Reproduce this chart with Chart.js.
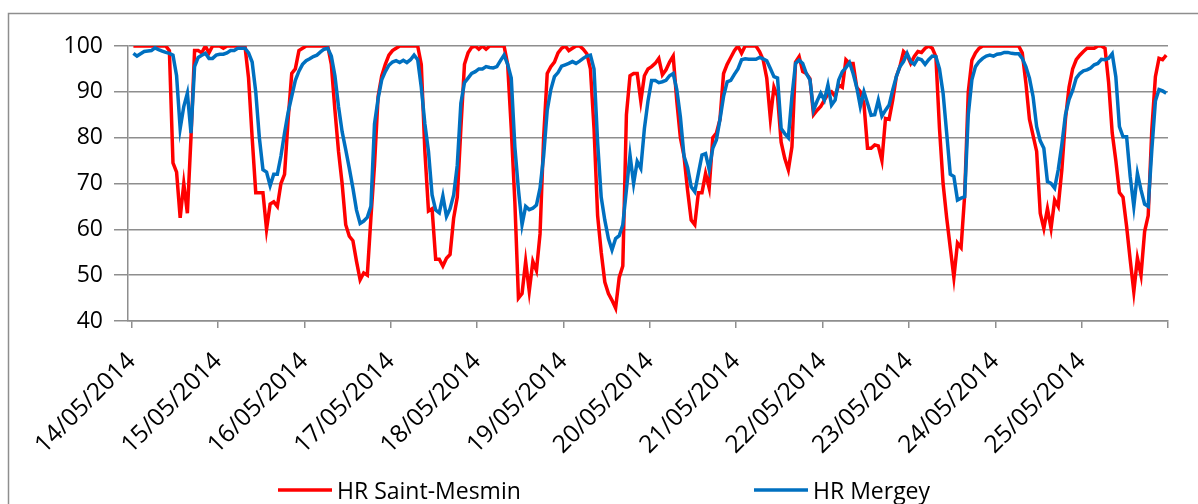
<!DOCTYPE html>
<html>
<head>
<meta charset="utf-8">
<script src="https://cdn.jsdelivr.net/npm/chart.js@4/dist/chart.umd.min.js"></script>
<style>
    html, body { margin: 0; padding: 0; background: #fff; overflow: hidden; }
</style>
</head>
<body>
<canvas id="hrChart" width="1198" height="504"></canvas>
<script>
// one tick per day, hourly readings in between
var dates = ['14/05/2014', '15/05/2014', '16/05/2014', '17/05/2014', '18/05/2014', '19/05/2014',
    '20/05/2014', '21/05/2014', '22/05/2014', '23/05/2014', '24/05/2014', '25/05/2014'];
var hoursPerDay = 24;

// relative humidity (%), hourly
var saintMesmin = [
    100, 100, 100, 100, 100, 100, 100, 100, 100, 100, 99, 74.5, 72.5, 62.5, 70, 63.5, 80, 99, 99, 98.5, 100, 98.5, 100, 100,
    100, 99.5, 100, 100, 100, 100, 100, 100, 93, 80, 68, 68, 68, 60, 65.5, 66, 65, 70, 72, 84, 94, 95, 99, 99.5,
    100, 100, 100, 100, 100, 100, 100, 96, 86, 77, 70, 61, 58.5, 57.5, 53, 49, 50.5, 50, 62.5, 74, 89, 93.5, 96, 98,
    99, 99.5, 100, 100, 100, 100, 100, 100, 96, 77, 64, 64.5, 53.5, 53.5, 52, 53.7, 54.5, 62.5, 67, 82, 96, 98.5, 99.7, 100,
    99.3, 100, 99.3, 100, 100, 100, 100, 100, 96, 82, 66, 45, 46, 53, 46.5, 53, 51, 59, 80, 94, 95.5, 96.5, 98.5, 99.5,
    100, 99, 99.5, 100, 100, 99.3, 98.3, 95, 82, 63, 55, 48.5, 46, 44.5, 42.8, 49.5, 52, 85, 93.5, 94, 94, 88, 93.5, 95,
    95.5, 96.2, 97.3, 93.7, 94.8, 96.5, 97.8, 88, 80, 76, 68.5, 62, 61, 68, 68, 72.2, 69, 80, 81, 84, 94, 96, 97.5, 99,
    100, 98.4, 100, 100, 100, 100, 98.8, 97, 93, 84.2, 91, 89, 79, 75.5, 73, 78, 96.5, 97.7, 94.4, 94, 92.9, 85, 86, 86.8,
    88.2, 89.5, 90, 89, 91.5, 91, 97, 96.2, 96.2, 91, 90, 87.5, 77.7, 77.7, 78.4, 78.2, 75, 84.2, 84, 88.2, 93.3, 95.5, 98.8, 98,
    96.2, 97.7, 98.8, 98.6, 99.5, 100, 99.5, 97.7, 82, 70, 62.5, 56, 49.5, 57, 56, 67.5, 90, 96.9, 98.5, 99.5, 100, 100, 100, 100,
    100, 100, 100, 100, 100, 100, 100, 98.5, 92, 84, 80.5, 77, 63.5, 60.2, 64.5, 60.2, 66.4, 65, 73, 84, 91, 95, 97, 98,
    98.8, 99.5, 99.5, 99.5, 100, 100, 99.5, 92, 81, 75, 68, 67, 60.6, 53.3, 46.4, 53.7, 50, 59.5, 63, 81.7, 93.3, 97.3, 97, 98
];

var mergey = [
    98.4, 97.8, 98.3, 98.8, 98.9, 99, 99.6, 99.2, 98.9, 98.6, 98.4, 98, 93.5, 82, 86.8, 89.7, 81, 95.5, 97.5, 98, 98.4, 97.3, 97.3, 98,
    98.2, 98.2, 98.5, 99, 99, 99.5, 99.5, 99.5, 98.5, 96.5, 90, 80, 73, 72.5, 69.5, 72, 72, 76, 81, 85.5, 89, 92.5, 94.5, 96,
    96.8, 97.2, 97.7, 98, 98.7, 99.3, 99.5, 97.8, 93.5, 86.8, 81.3, 77.4, 73.3, 69, 64.2, 61.3, 61.8, 62.6, 65, 83, 88.5, 92.6, 94.4, 95.8,
    96.5, 96.8, 96.4, 96.9, 96.4, 97, 98, 97, 91, 83, 77, 67.5, 64.2, 63.6, 67.3, 62.8, 64.5, 67.5, 74, 87.5, 92, 93, 94, 94.4,
    95, 95, 95.5, 95.3, 95.2, 95.5, 96.8, 98, 96, 93, 78, 68.6, 61, 65, 64.3, 64.6, 65.3, 69, 76, 86, 90.5, 93.3, 94.2, 95.6,
    95.9, 96.2, 96.6, 96.2, 96.7, 97.3, 97.8, 98, 95, 79, 67, 62, 58, 55.5, 58, 58.6, 61, 68.6, 76.2, 70, 74.8, 73.3, 82, 88,
    92.5, 92.5, 92, 92.2, 92.5, 93.5, 94, 90.5, 84.5, 76, 73.5, 69.3, 68.2, 72.2, 76.2, 76.5, 73, 77.7, 79.5, 84, 89, 92.2, 92.5, 93.8,
    95, 97, 97.2, 97.1, 97.1, 97.1, 97.5, 97.2, 96.8, 95.1, 93.3, 93, 82, 80.9, 80, 89, 96.2, 96.9, 96.2, 94, 92.6, 86, 88, 89.7,
    88.2, 91.5, 87.1, 88.2, 92.6, 94.4, 95.3, 96.4, 94, 91, 86.8, 90, 87.5, 84.9, 85, 88.2, 84.7, 86, 87.1, 90.4, 93.3, 95.5, 96.6, 98.4,
    96.6, 96, 97.3, 97, 96, 97, 97.8, 97.7, 95, 89.7, 81, 72, 71.5, 66.4, 66.8, 67.1, 85, 92.6, 95.5, 96.6, 97.3, 97.8, 98, 97.8,
    98.2, 98.3, 98.6, 98.6, 98.4, 98.3, 98.3, 97.3, 95.5, 93, 89, 82.4, 79.3, 77.7, 70.4, 70, 69, 73, 78.5, 85, 88.3, 90.3, 93, 94,
    94.6, 94.8, 95.2, 95.9, 96.2, 97.1, 97, 97.3, 98.3, 93.3, 82.4, 80.2, 80.2, 71.5, 65, 72.2, 68.6, 65.5, 65, 77.3, 88, 90.5, 90.2, 89.7
];

var gridColor = '#8e8e8e';
var fontFamily = "'Open Sans', 'DejaVu Sans', sans-serif";

Chart.defaults.font.family = fontFamily;
Chart.defaults.font.size = 23;
Chart.defaults.color = '#000';

function toPoints(values) {
    return values.map(function (v, i) {
        return { x: i, y: v };
    });
}

// outer frame of the chart object (only left and top edges are in view)
var framePlugin = {
    id: 'frame',
    beforeDraw: function (chart) {
        var ctx = chart.ctx;
        ctx.save();
        ctx.strokeStyle = '#8e8e8e';
        ctx.lineWidth = 1.5;
        ctx.beginPath();
        ctx.moveTo(8.5, chart.height + 10);
        ctx.lineTo(8.5, 13.5);
        ctx.lineTo(chart.width + 10, 13.5);
        ctx.stroke();
        ctx.restore();
    }
};

// legend row under the axis, items spread like the original
var legendPlugin = {
    id: 'legendRow',
    afterDraw: function (chart, args, opts) {
        var ctx = chart.ctx;
        chart.data.datasets.forEach(function (ds, k) {
            var x = opts.starts[k];
            ctx.save();
            ctx.strokeStyle = ds.borderColor;
            ctx.lineWidth = ds.borderWidth;
            ctx.beginPath();
            ctx.moveTo(x, opts.y);
            ctx.lineTo(x + opts.lineLength, opts.y);
            ctx.stroke();
            ctx.fillStyle = '#000';
            ctx.font = opts.fontSize + 'px ' + fontFamily;
            ctx.textBaseline = 'alphabetic';
            ctx.fillText(ds.label, x + opts.lineLength + opts.gap, opts.y + 9);
            ctx.restore();
        });
    }
};

var ctx = document.getElementById('hrChart').getContext('2d');
var hrChart = new Chart(ctx, {
    type: 'line',
    data: {
        datasets: [{
            label: 'HR Saint-Mesmin',
            data: toPoints(saintMesmin),
            borderColor: '#ff0000',
            borderWidth: 3.5,
            pointRadius: 0,
            tension: 0,
            order: 1
        }, {
            label: 'HR Mergey',
            data: toPoints(mergey),
            borderColor: '#0070c0',
            borderWidth: 3.5,
            pointRadius: 0,
            tension: 0,
            order: 0
        }]
    },
    options: {
        responsive: false,
        animation: false,
        devicePixelRatio: 1,
        layout: {
            padding: { left: 0, right: 30, top: 46, bottom: 0 }
        },
        plugins: {
            legend: { display: false },
            tooltip: { enabled: false },
            legendRow: {
                starts: [278, 754],
                y: 490,
                lineLength: 54,
                gap: 5,
                fontSize: 23
            }
        },
        scales: {
            x: {
                type: 'linear',
                min: -1.5,
                max: saintMesmin.length - 0.5,
                afterBuildTicks: function (scale) {
                    var ticks = [];
                    for (var k = 0; k <= dates.length; k++) {
                        ticks.push({ value: k * hoursPerDay - 0.5 });
                    }
                    scale.ticks = ticks;
                },
                afterFit: function (scale) {
                    scale.height = 183;
                    // keep the plot edges fixed, the rotated labels fit anyway
                    scale.paddingLeft = 0;
                    scale.paddingRight = 0;
                },
                ticks: {
                    autoSkip: false,
                    minRotation: 45,
                    maxRotation: 45,
                    padding: 19,
                    font: { size: 24.5 },
                    callback: function (value) {
                        return dates[Math.round((value + 0.5) / hoursPerDay)] || '';
                    }
                },
                grid: {
                    drawOnChartArea: false,
                    color: gridColor,
                    lineWidth: 1.5,
                    tickLength: 7
                },
                border: { color: gridColor, width: 1.5 }
            },
            y: {
                min: 40,
                max: 100,
                afterFit: function (scale) {
                    scale.width = 128;
                },
                ticks: {
                    stepSize: 10,
                    padding: 11
                },
                grid: {
                    color: gridColor,
                    lineWidth: 1.5,
                    tickLength: 14
                },
                border: { color: gridColor, width: 1.5 }
            }
        }
    },
    plugins: [framePlugin, legendPlugin]
});
</script>
</body>
</html>
